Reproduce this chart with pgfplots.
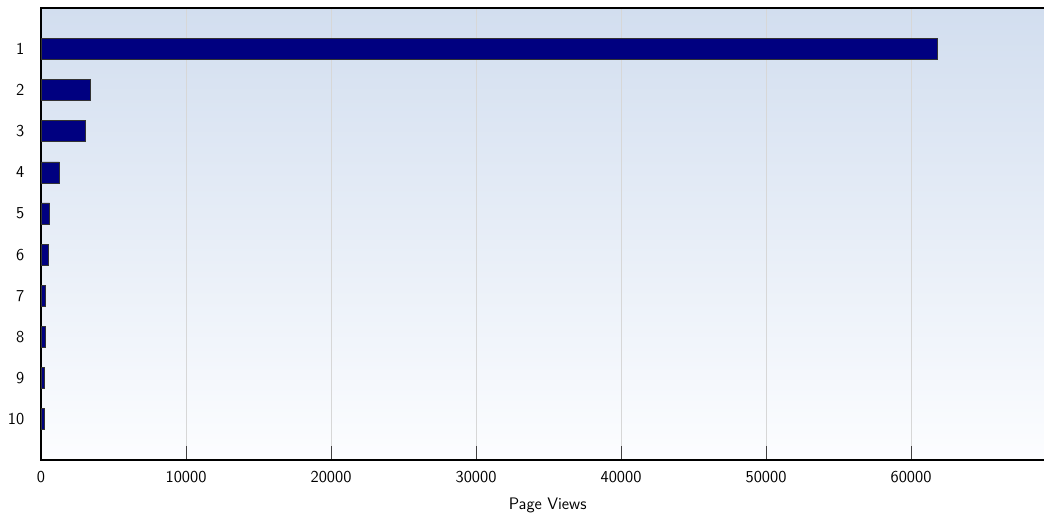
\documentclass[border=0pt]{standalone}
\usepackage{pgfplots}
\pgfplotsset{compat=1.18}
\renewcommand{\familydefault}{\sfdefault}
\definecolor{barblue}{RGB}{0,0,128}
\definecolor{bgtop}{RGB}{210,222,239}
\definecolor{bgbot}{RGB}{252,253,255}
\definecolor{gridgray}{RGB}{215,215,215}

\begin{document}
\begin{tikzpicture}[x=0.75pt,y=0.75pt]
\begin{axis}[
    at={(0,0)}, anchor=north west,
    scale only axis,
    width=760pt, height=339pt,
    xbar, bar width=15.8pt,
    y dir=reverse,
    xmin=0, xmax=69885,
    ymin=0, ymax=11,
    ytick={1,...,10},
    xtick={0,10000,...,60000},
    scaled x ticks=false,
    xticklabel style={/pgf/number format/1000 sep={}},
    /pgf/number format/assume math mode=true,
    xtick pos=bottom, tick align=inside,
    major tick length=10.5pt,
    ytick style={draw=none},
    xtick style={draw=black!75, line width=0.6pt},
    xmajorgrids,
    grid style={gridgray, line width=0.6pt},
    axis line style={line width=0.9pt},
    axis background/.style={top color=bgtop, bottom color=bgbot},
    tick label style={font=\fontsize{12.5}{14}\selectfont\sffamily},
    label style={font=\fontsize{12.5}{14}\selectfont\sffamily},
    xlabel={Page Views},
    xlabel style={yshift=-4pt},
    xticklabel style={yshift=-5pt},
    yticklabel style={xshift=-9pt},
]
\addplot[fill=barblue, draw=black!80, line width=0.5pt] coordinates {
    (61800,1) (3430,2) (3030,3) (1270,4) (600,5)
    (530,6) (330,7) (290,8) (260,9) (240,10)
};
\end{axis}
\pgfresetboundingbox
\path[use as bounding box] (-41,8) rectangle (1003,-504);
\end{tikzpicture}
\end{document}
